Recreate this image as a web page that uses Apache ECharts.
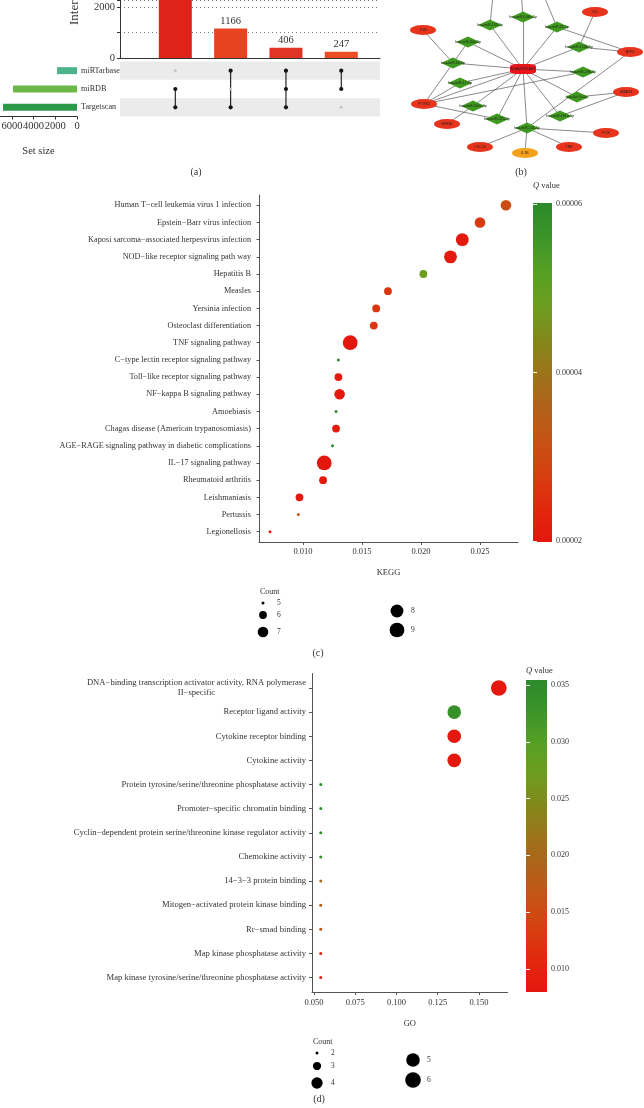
<!DOCTYPE html>
<html><head><meta charset="utf-8">
<script src="https://cdn.jsdelivr.net/npm/echarts@6/dist/echarts.min.js"></script>
<style>html,body{margin:0;padding:0;background:#fff}#c{width:644px;height:1108px}</style>
</head><body><div id="c"></div>
<script>
// ================= DATA =================
// (a) UpSet plot
const upsetSets = ['miRTarbase', 'miRDB', 'Targetscan'];
const upsetSetSizes = [1840, 5900, 6820];
const upsetIntersectionSets = [
  ['miRDB', 'Targetscan'],
  ['miRTarbase', 'Targetscan'],
  ['miRTarbase', 'miRDB', 'Targetscan'],
  ['miRTarbase', 'miRDB']
];
const upsetIntersectionSizes = [3600, 1166, 406, 247];
const upsetYTickLabels = [0, 2000];
const setSizeTicks = [0, 2000, 4000, 6000];

// (b) network
const netNames = ['ADAMTS9-AS2',
  'hsa-miR-146a-5p','hsa-miR-155-5p','hsa-miR-21-5p','hsa-miR-34a-5p','hsa-miR-125b-5p','hsa-miR-16-5p',
  'hsa-miR-29b-3p','hsa-miR-17-5p','hsa-let-7a-5p','hsa-miR-200c-3p','hsa-miR-181a-5p','hsa-miR-223-3p','hsa-miR-145-5p',
  'JUN','IL6','ATF3','SMAD3','FOS','TNF','IL1B','CXCL8','NFKB1','PTGS2','MAPK1','STAT3','CCL2'];
const netKinds = ['hub',
  'mirna','mirna','mirna','mirna','mirna','mirna','mirna','mirna','mirna','mirna','mirna','mirna','mirna',
  'gene','gene','gene','gene','gene','gene','alt','gene','gene','gene','gene','gene','gene'];
const netLayout = [[140,69],[140,17],[107,25],[174,27],[85,42],[196,47],[70,63],[200,72],[77,83],[194,97],
  [90,106],[177,116],[114,119],[144,128],[40,30],[212,12],[247,52],[243,92],[223,133],[186,147],[142,153],
  [97,147],[64,124],[41,104],[112,-25],[137,-25],[152,-25]];
const netEdges = [[14,6],[4,6],[4,0],[2,0],[1,0],[3,0],[3,16],[15,5],[5,0],[5,16],[6,0],[6,23],[7,0],[7,23],
  [8,0],[8,23],[9,0],[9,17],[10,0],[10,22],[11,0],[11,17],[12,0],[12,23],[13,0],[13,21],[13,20],[13,19],
  [13,18],[0,23],[16,13],[24,2],[25,1],[26,3]];

// (c) KEGG
const keggTerms = [
  'Human T\u2212cell leukemia virus 1 infection',
  'Epstein\u2212Barr virus infection',
  'Kaposi sarcoma\u2212associated herpesvirus infection',
  'NOD\u2212like receptor signaling path way',
  'Hepatitis B',
  'Measles',
  'Yersinia infection',
  'Osteoclast differentiation',
  'TNF signaling pathway',
  'C\u2212type lectin receptor signaling pathway',
  'Toll\u2212like receptor signaling pathway',
  'NF\u2212kappa B signaling pathway',
  'Amoebiasis',
  'Chagas disease (American trypanosomiasis)',
  'AGE\u2212RAGE signaling pathway in diabetic complications',
  'IL\u221217 signaling pathway',
  'Rheumatoid arthritis',
  'Leishmaniasis',
  'Pertussis',
  'Legionellosis'];
const keggRatio = [0.0272,0.0250,0.0235,0.0225,0.0202,0.0172,0.0162,0.0160,0.0140,0.0130,
  0.0130,0.0131,0.0128,0.0128,0.0125,0.0118,0.0117,0.0097,0.0096,0.0072];
const keggCount = [7,7,8,8,6,6,6,6,9,5,6,7,5,6,5,9,6,6,5,5];
const keggQ = [0.0000308,0.0000272,0.0000203,0.0000205,0.0000480,0.0000265,0.0000262,0.0000262,0.0000200,0.0000595,
  0.0000205,0.0000201,0.0000595,0.0000212,0.0000590,0.0000200,0.0000205,0.0000206,0.0000320,0.0000212];
const keggXTicks = [0.010, 0.015, 0.020, 0.025];
const keggQTicks = [0.00002, 0.00004, 0.00006];
const keggQLimits = [0.0000199, 0.0000601];
const keggCountLegend = [5, 6, 7, 8, 9];

// (d) GO
const goTerms = [
  'DNA\u2212binding transcription activator activity, RNA polymerase\nII\u2212specific',
  'Receptor ligand activity',
  'Cytokine receptor binding',
  'Cytokine activity',
  'Protein tyrosine/serine/threonine phosphatase activity',
  'Promoter\u2212specific chromatin binding',
  'Cyclin\u2212dependent protein serine/threonine kinase regulator activity',
  'Chemokine activity',
  '14\u22123\u22123 protein binding',
  'Mitogen\u2212activated protein kinase binding',
  'Rr\u2212smad binding',
  'Map kinase phosphatase activity',
  'Map kinase tyrosine/serine/threonine phosphatase activity'];
const goRatio = [0.162,0.135,0.135,0.135,0.0541,0.0541,0.0541,0.0541,0.0541,0.0541,0.0541,0.0541,0.0541];
const goCount = [6,5,5,5,2,2,2,2,2,2,2,2,2];
const goQ = [0.0081,0.0335,0.0081,0.0081,0.0352,0.0352,0.0352,0.0350,0.0200,0.0175,0.0160,0.0093,0.0091];
const goXTicks = [0.050, 0.075, 0.100, 0.125, 0.150];
const goQTicks = [0.010, 0.015, 0.020, 0.025, 0.030, 0.035];
const goQLimits = [0.00797, 0.03544];
const goCountLegend = [2, 3, 4, 5, 6];

// ================= STYLE =================
const FONT = '"Liberation Serif", "DejaVu Serif", serif';
const TXT = '#333';
const AX = '#555';
const PAL = ['#e4170e','#e2280d','#d63f10','#c65315','#b0621a','#9c741a','#82881c','#6c9e20','#55a024','#3c9429','#2b8a2b'];
const STOPS = PAL.map((c, i) => ({offset: i / (PAL.length - 1), color: c}));
const upsetBarColors = ['#e0231a', '#e8431f', '#e03526', '#ec4d22'];
const setBarColors = ['#4db38a', '#6ab845', '#2b9a48'];
const keggSize = c => Math.sqrt(9 + 52 * (c - 5));
const goSize = c => Math.sqrt(9 + 59 * (c - 2));
const nodeStyle = {
  hub:  {symbol: 'roundRect', size: [26, 10], color: '#e8161a'},
  mirna:{symbol: 'diamond', size: [24, 11], color: '#3f9a1f'},
  gene: {symbol: 'circle', size: [26, 10], color: '#e8341c'},
  alt:  {symbol: 'circle', size: [26, 10], color: '#f3a31b'}
};

const chart = echarts.init(document.getElementById('c'), null, {renderer: 'canvas'});

const gridDefs = [
  {left: 120, top: 0, width: 260, height: 58},
  {left: 120, top: 61.5, width: 260, height: 55},
  {left: 0, top: 61.5, width: 77, height: 55},
  {left: 383, top: 0, width: 261, height: 175},
  {left: 259, top: 195, width: 259, height: 347},
  {left: 533, top: 203, width: 19, height: 339},
  {left: 312, top: 673.5, width: 195.7, height: 318.5},
  {left: 526, top: 680, width: 21, height: 312}
].map(g => Object.assign({outerBoundsMode: 'none', containLabel: false}, g));

const lbl = (o) => Object.assign({fontFamily: FONT, color: TXT, hideOverlap: false}, o);

// matrix data
const matrixDots = [];
upsetIntersectionSets.forEach((s, i) => {
  upsetSets.forEach((n, j) => matrixDots.push([i + 1, j, s.includes(n) ? 1 : 0]));
});
const matrixLines = upsetIntersectionSets.map((s, i) => {
  const idx = s.map(n => upsetSets.indexOf(n));
  return [i + 1, Math.min(...idx), Math.max(...idx)];
});

const netData = netNames.map((n, i) => {
  const st = nodeStyle[netKinds[i]];
  return {name: n, value: netLayout[i], symbol: st.symbol, symbolSize: st.size,
    itemStyle: {color: st.color}};
});
const netLinks = netEdges.map(e => ({source: e[0], target: e[1]}));

const keggRows = keggTerms.map((_, i) => i + 1);
const goRows = goTerms.map((_, i) => i + 1);

function colorbarSeries(xi, yi, lim) {
  return {
    type: 'custom', xAxisIndex: xi, yAxisIndex: yi, data: [[0, lim[0], lim[1]]],
    encode: {x: 0, y: [1, 2]}, silent: true,
    renderItem: (p, api) => {
      const lo = api.coord([0, api.value(1)]);
      const hi = api.coord([1, api.value(2)]);
      return {type: 'rect', shape: {x: lo[0], y: hi[1], width: hi[0] - lo[0], height: lo[1] - hi[1]},
        style: {fill: new echarts.graphic.LinearGradient(0, 1, 0, 0, STOPS)}};
    }
  };
}
function cbAxes(gi, lim, ticks, fmt) {
  const tick = {show: true, inside: true, length: 4, customValues: ticks, lineStyle: {color: '#ffffff', width: 1}};
  return [
    {gridIndex: gi, type: 'value', position: 'right', min: lim[0], max: lim[1], z: 10,
      axisLine: {show: false}, axisTick: tick, splitLine: {show: false},
      axisLabel: lbl({customValues: ticks, formatter: fmt, fontSize: 8, margin: 4})},
    {gridIndex: gi, type: 'value', position: 'left', min: lim[0], max: lim[1], z: 10,
      axisLine: {show: false}, axisTick: tick, splitLine: {show: false}, axisLabel: {show: false}}
  ];
}

// graphics
const G = [];
const txt = (t, x, y, o) => G.push({type: 'text', x, y, z: 100, style: Object.assign(
  {text: t, fontFamily: FONT, fontSize: 10, fill: TXT, align: 'center', verticalAlign: 'middle'}, o || {})});
txt('(a)', 196, 172);
txt('(b)', 521, 172);
txt('(c)', 318, 653);
txt('(d)', 319, 1099);
G.push({type: 'text', x: 75, y: 25, rotation: Math.PI / 2, z: 100, style: {text: 'Intersection size',
  fontFamily: FONT, fontSize: 13, fill: TXT, align: 'left', verticalAlign: 'middle'}});
const qTitle = (x, y) => G.push({type: 'text', x, y, z: 100, style: {text: '{i|Q} value',
  fontFamily: FONT, fontSize: 8.5, fill: TXT, align: 'left', verticalAlign: 'middle',
  rich: {i: {fontStyle: 'italic', fontFamily: FONT, fontSize: 8.5, fill: TXT}}}});
qTitle(533, 186);
qTitle(526, 671);
function legend(counts, sizeFn, titlePos, pos, dx) {
  txt('Count', titlePos[0], titlePos[1], {align: 'left', fontSize: 8});
  counts.forEach((c, i) => {
    G.push({type: 'circle', z: 100, shape: {cx: pos[i][0], cy: pos[i][1], r: sizeFn(c) / 2}, style: {fill: '#000'}});
    txt(String(c), pos[i][0] + dx, pos[i][1], {align: 'left', fontSize: 7.5});
  });
}
legend(keggCountLegend, keggSize, [260, 592], [[263,603],[263,615],[263,632],[397,611],[397,630]], 14);
legend(goCountLegend, goSize, [313, 1042], [[317,1053],[317,1066],[317,1083],[413,1060],[413,1080]], 14);

const option = {
  animation: false,
  backgroundColor: '#fff',
  grid: gridDefs,
  xAxis: [
    {gridIndex: 0, type: 'value', min: 0, max: 4.7, axisLine: {show: true, onZero: false, lineStyle: {color: '#333'}},
      axisTick: {show: false}, axisLabel: {show: false}, splitLine: {show: false}},
    {gridIndex: 1, type: 'value', min: 0, max: 4.7, show: false},
    {gridIndex: 2, type: 'value', min: 0, max: 7100, inverse: true,
      axisLine: {show: true, onZero: false, lineStyle: {color: '#333'}},
      axisTick: {show: true, length: 3, customValues: setSizeTicks, lineStyle: {color: '#333'}},
      axisLabel: lbl({customValues: setSizeTicks, formatter: v => String(v), fontSize: 10.5, margin: 4}),
      splitLine: {show: false},
      name: 'Set size', nameLocation: 'middle', nameGap: 29,
      nameTextStyle: {fontFamily: FONT, fontSize: 10.5, color: TXT}},
    {gridIndex: 3, type: 'value', min: 0, max: 261, show: false},
    {gridIndex: 4, type: 'value', min: 0.00627, max: 0.02822,
      axisLine: {show: true, onZero: false, lineStyle: {color: AX}},
      axisTick: {show: true, length: 3, customValues: keggXTicks, lineStyle: {color: AX}},
      axisLabel: lbl({customValues: keggXTicks, formatter: v => v.toFixed(3), fontSize: 8.5, margin: 5}),
      splitLine: {show: false}, name: 'KEGG', nameLocation: 'middle', nameGap: 26,
      nameTextStyle: {fontFamily: FONT, fontSize: 8.5, color: TXT}},
    {gridIndex: 5, type: 'value', min: 0, max: 1, show: false},
    {gridIndex: 6, type: 'value', min: 0.0488, max: 0.1674,
      axisLine: {show: true, onZero: false, lineStyle: {color: AX}},
      axisTick: {show: true, length: 3, customValues: goXTicks, lineStyle: {color: AX}},
      axisLabel: lbl({customValues: goXTicks, formatter: v => v.toFixed(3), fontSize: 8.5, margin: 6}),
      splitLine: {show: false}, name: 'GO', nameLocation: 'middle', nameGap: 27,
      nameTextStyle: {fontFamily: FONT, fontSize: 8.5, color: TXT}},
    {gridIndex: 7, type: 'value', min: 0, max: 1, show: false}
  ],
  yAxis: [
    {gridIndex: 0, type: 'value', min: 0, max: 2297, interval: 1000,
      axisLine: {show: true, onZero: false, lineStyle: {color: '#333'}},
      axisTick: {show: true, length: 3, lineStyle: {color: '#333'}},
      axisLabel: lbl({formatter: v => upsetYTickLabels.includes(v) ? String(v) : '', fontSize: 10.5, margin: 5}),
      splitLine: {show: true, lineStyle: {type: [1, 3], color: '#777', width: 1}}},
    {gridIndex: 1, type: 'category', data: upsetSets, inverse: true,
      axisLine: {show: false}, axisTick: {show: false}, splitLine: {show: false},
      axisLabel: lbl({align: 'left', margin: 39, fontSize: 8.2}),
      splitArea: {show: true, areaStyle: {color: ['#ebebeb', 'rgba(255,255,255,0)']}}},
    {gridIndex: 2, type: 'category', data: upsetSets, inverse: true, show: false},
    {gridIndex: 3, type: 'value', min: 0, max: 175, inverse: true, show: false},
    {gridIndex: 4, type: 'value', min: 0.4, max: 20.6, inverse: true,
      axisLine: {show: true, onZero: false, lineStyle: {color: AX}},
      axisTick: {show: true, length: 2.5, customValues: keggRows, lineStyle: {color: AX}},
      axisLabel: lbl({customValues: keggRows, formatter: v => keggTerms[Math.round(v) - 1], fontSize: 8.25, margin: 8}),
      splitLine: {show: false}},
    ...cbAxes(5, keggQLimits, keggQTicks, v => v.toFixed(5)),
    {gridIndex: 6, type: 'value', min: 0.4, max: 13.6, inverse: true,
      axisLine: {show: true, onZero: false, lineStyle: {color: AX}},
      axisTick: {show: true, length: 3, customValues: goRows, lineStyle: {color: AX}},
      axisLabel: lbl({customValues: goRows, fontSize: 8.6, margin: 6, lineHeight: 9.5,
        formatter: v => {
          const t = goTerms[Math.round(v) - 1];
          return t.indexOf('\n') >= 0 ? t.split('\n').map(s => '{w|' + s + '}').join('\n') : t;
        },
        rich: {w: {align: 'center', fontFamily: FONT, fontSize: 8.6, color: TXT, lineHeight: 9.5}}}),
      splitLine: {show: false}},
    ...cbAxes(7, goQLimits, goQTicks, v => v.toFixed(3))
  ],
  visualMap: [
    {type: 'continuous', show: false, seriesIndex: 5, dimension: 2, min: keggQLimits[0], max: keggQLimits[1],
      inRange: {color: PAL}},
    {type: 'continuous', show: false, seriesIndex: 7, dimension: 2, min: goQLimits[0], max: goQLimits[1],
      inRange: {color: PAL}}
  ],
  series: [
    {type: 'bar', xAxisIndex: 0, yAxisIndex: 0, barWidth: 33, clip: true,
      data: upsetIntersectionSizes.map((v, i) => ({value: [i + 1, v], itemStyle: {color: upsetBarColors[i]}})),
      label: {show: true, position: 'top', distance: 2, fontFamily: FONT, fontSize: 10.5, color: TXT,
        formatter: p => p.value[1]}},
    {type: 'scatter', xAxisIndex: 1, yAxisIndex: 1, data: matrixDots,
      symbolSize: v => v[2] ? 4.2 : 3.2,
      itemStyle: {color: p => p.data[2] ? '#151515' : '#c8c8c8', opacity: 1}},
    {type: 'custom', xAxisIndex: 1, yAxisIndex: 1, data: matrixLines, encode: {x: 0, y: [1, 2]},
      renderItem: (p, api) => {
        const a = api.coord([api.value(0), api.value(1)]);
        const b = api.coord([api.value(0), api.value(2)]);
        return {type: 'line', shape: {x1: a[0], y1: a[1], x2: b[0], y2: b[1]},
          style: {stroke: '#151515', lineWidth: 1.1}};
      }},
    {type: 'bar', xAxisIndex: 2, yAxisIndex: 2, barWidth: 7,
      data: upsetSetSizes.map((v, i) => ({value: v, itemStyle: {color: setBarColors[i]}}))},
    {type: 'graph', coordinateSystem: 'cartesian2d', xAxisIndex: 3, yAxisIndex: 3, data: netData, links: netLinks,
      edgeSymbol: ['none', 'none'], lineStyle: {color: '#3a3a3a', width: 0.6, opacity: 1, curveness: 0},
      label: {show: true, position: 'inside', fontSize: 3.6, color: '#222', fontFamily: 'Liberation Sans'},
      emphasis: {disabled: true}},
    {type: 'scatter', xAxisIndex: 4, yAxisIndex: 4, encode: {x: 0, y: 1},
      data: keggTerms.map((t, i) => [keggRatio[i], i + 1, keggQ[i], keggCount[i]]),
      symbolSize: v => keggSize(v[3]), itemStyle: {opacity: 1}},
    colorbarSeries(5, 5, keggQLimits),
    {type: 'scatter', xAxisIndex: 6, yAxisIndex: 7, encode: {x: 0, y: 1},
      data: goTerms.map((t, i) => [goRatio[i], i + 1, goQ[i], goCount[i]]),
      symbolSize: v => goSize(v[3]), itemStyle: {opacity: 1}},
    colorbarSeries(7, 8, goQLimits)
  ],
  graphic: G
};
chart.setOption(option);
</script>
</body></html>
